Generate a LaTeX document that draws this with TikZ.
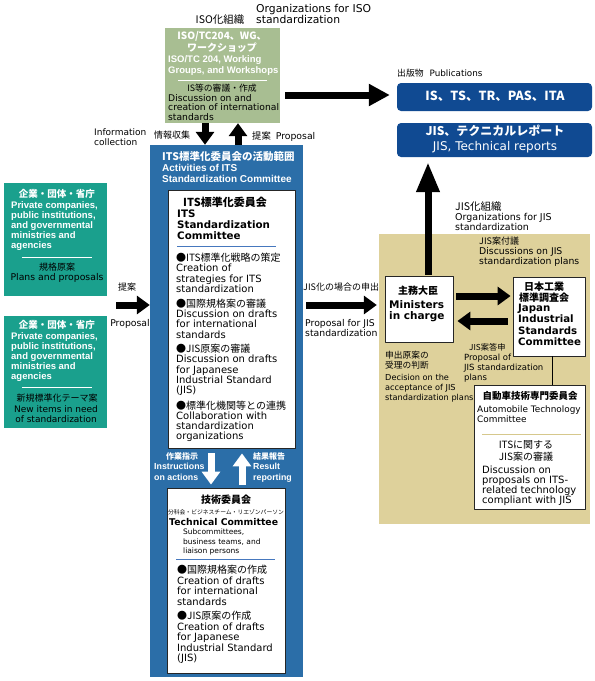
\documentclass[tikz,border=0pt]{standalone}
\usepackage{fontspec}
\setmainfont{DejaVu Sans}
\newfontfamily\jpfont{Noto Sans CJK JP}
\newfontfamily\lbfont{Liberation Sans}
\usetikzlibrary{fit,arrows.meta}
\definecolor{isogreen}{RGB}{168,190,146}
\definecolor{actblue}{RGB}{43,110,168}
\definecolor{orgteal}{RGB}{26,160,141}
\definecolor{pubblue}{RGB}{16,74,146}
\definecolor{jistan}{RGB}{222,209,155}
\definecolor{ruleblue}{RGB}{70,120,190}
\definecolor{ruletan}{RGB}{214,200,140}
\newcommand\jp[1]{{\jpfont#1}}
\newcommand\fsz[2]{\fontsize{#1}{#2}\selectfont}
\setlength\lineskiplimit{-20pt}

\begin{document}
\begin{tikzpicture}[x=1pt,y=-1pt,line join=round,
  txt/.style={inner sep=0pt,anchor=north west,align=left,font=\fsz{9.3}{10.2}},
  panel/.style={inner sep=0pt,fill=#1},
  wbox/.style={inner sep=0pt,fill=white,draw=black!85,line width=0.8pt},
  arr/.style={line width=7pt,-{Triangle[length=13pt,width=18pt]}},
  wline/.style={white,line width=0.7pt}]
  \useasboundingbox (0,0) rectangle (595,681);

  \node[panel=isogreen,fit={(165,28) (280,123)}] (iso) {};
  \node[panel=actblue,fit={(150,145) (303,677)}] (act) {};
  \node[wbox,fit={(168,190) (295,448)}] (its) {};
  \node[wbox,fit={(167,488) (285,673)}] (tc) {};
  \node[panel=orgteal,fit={(4,183) (107,296)}] (org1) {};
  \node[panel=orgteal,fit={(4,316) (107,428)}] (org2) {};
  \node[panel=pubblue,rounded corners=4pt,fit={(397,83) (592,111)}] (pub1) {};
  \node[panel=pubblue,rounded corners=4pt,fit={(397,123) (592,157)}] (pub2) {};
  \node[panel=jistan,fit={(379,234) (590,524)}] (jis) {};
  \node[wbox,fit={(385,276) (453,342)}] (min) {};
  \node[wbox,fit={(513,277) (585,356)}] (jisc) {};
  \node[wbox,fit={(474,385) (585,509)}] (atc) {};

  \node[txt,anchor=center,font=\fsz{10.5}{11}] (isot) at (220,20) {\jp{ISO化組織}};
  \node[txt,font=\fsz{10.8}{11.5}] (isoe) at (256,4) {Organizations for ISO\\standardization};
  \node[txt,anchor=north,align=center,text=white,font=\fsz{10}{12}\jpfont\bfseries] (isoh) at (222,31)
    {ISO/TC204、WG、\\ワークショップ};
  \node[txt,text=white,font=\lbfont\bfseries\fsz{9.5}{11}] (isoe2) at (168,55) {ISO/TC 204, Working\\Groups, and Workshops};
  \draw[wline] (178,80) -- (267,80);
  \node[txt,anchor=center,font=\fsz{8.8}{10}] (isod) at (222,88) {\jp{IS等の審議・作成}};
  \node[txt,font=\fsz{9.2}{9.8}] (isodd) at (168,94) {Discussion on and\\creation of international\\standards};

  \node[txt,font=\fsz{9}{10}] (info) at (94,128) {Information\\collection};
  \node[txt,anchor=west,font=\fsz{9}{10}] (infoj) at (154,135) {\jp{情報収集}};
  \node[txt,anchor=west] (isop) at (252,137) {\jp{提案}\hspace{5pt}Proposal};

  \node[txt,text=white,font=\lbfont\bfseries\fsz{10}{11.3}] (acth) at (162,151)
    {{\jpfont\fsz{10.5}{11.3}ITS標準化委員会の活動範囲}\\Activities of ITS\\Standardization Committee};

  \node[txt,font=\fsz{10.3}{11}\bfseries] (itsh) at (177,197)
    {\hspace*{6pt}{\jpfont\fsz{11}{11}ITS標準化委員会}\\ITS\\Standardization\\Committee};
  \draw[ruleblue,line width=0.8pt] (177,246) -- (276,246);
  \node[txt,font=\fsz{10}{10.2}] (itsb) at (176,253)
    {\jp{●ITS標準化戦略の策定}\\Creation of\\strategies for ITS\\standardization\\[5pt]
     \jp{●国際規格案の審議}\\Discussion on drafts\\for international\\standards\\[4.5pt]
     \jp{●JIS原案の審議}\\Discussion on drafts\\for Japanese\\Industrial Standard\\(JIS)\\[5.5pt]
     \jp{●標準化機関等との連携}\\Collaboration with\\standardization\\organizations};

  \node[txt,anchor=center,font=\fsz{10}{11}\jpfont\bfseries] (tch) at (226,500) {技術委員会};
  \node[txt,anchor=center,font=\fsz{5.8}{6}\jpfont] (tcs) at (226,512) {分科会・ビジネスチーム・リエゾンパーソン};
  \node[txt,anchor=west,font=\fsz{9.3}{11}\bfseries] (tce) at (169,522) {Technical Committee};
  \node[txt,font=\fsz{7.5}{9.5}] (tcm) at (183,529) {Subcommittees,\\business teams, and\\liaison persons};
  \draw[ruleblue,line width=0.8pt] (176,559) -- (275,559);
  \node[txt,font=\fsz{10}{10.5}] (tcb) at (177,565)
    {\jp{●国際規格案の作成}\\Creation of drafts\\for international\\standards\\[4pt]
     \jp{●JIS原案の作成}\\Creation of drafts\\for Japanese\\Industrial Standard\\(JIS)};

  \node[txt,text=white,font=\lbfont\bfseries\fsz{8.8}{10.5}] (inst) at (154,452)
    {\hspace*{12pt}{\jpfont\fsz{8}{10.5}作業指示}\\Instructions\\on actions};
  \node[txt,text=white,font=\lbfont\bfseries\fsz{8.8}{10.5}] (resu) at (253,452)
    {{\jpfont\fsz{8}{10.5}結果報告}\\Result\\reporting};

  \node[txt,anchor=center,text=white,font=\fsz{9.5}{10}\jpfont\bfseries] (o1h) at (57,194) {企業・団体・省庁};
  \node[txt,text=white,font=\lbfont\bfseries\fsz{9.5}{10.2}] (o1e) at (11,201)
    {Private companies,\\public institutions,\\and governmental\\ministries and\\agencies};
  \draw[wline] (22,257) -- (92,257);
  \node[txt,anchor=center,font=\fsz{9}{10}] (o1j) at (57,267) {\jp{規格原案}};
  \node[txt,anchor=center] (o1p) at (57,278) {Plans and proposals};
  \node[txt,anchor=center,text=white,font=\fsz{9.5}{10}\jpfont\bfseries] (o2h) at (57,325) {企業・団体・省庁};
  \node[txt,text=white,font=\lbfont\bfseries\fsz{9.5}{10.2}] (o2e) at (11,332)
    {Private companies,\\public institutions,\\and governmental\\ministries and\\agencies};
  \draw[wline] (22,387) -- (92,387);
  \node[txt,anchor=center,font=\fsz{9}{10}] (o2j) at (57,398) {\jp{新規標準化テーマ案}};
  \node[txt,anchor=north,align=center,font=\fsz{9}{10.2}] (o2n) at (56,405) {New items in need\\of standardization};
  \node[txt,anchor=center,font=\fsz{9}{10}] (orgpj) at (127,287) {\jp{提案}};
  \node[txt,anchor=center] (orgpe) at (130,324) {Proposal};
  \coordinate (orgp) at (116,305);

  \node[txt,anchor=west,font=\fsz{8.8}{9}] (pubt) at (397,73) {\jp{出版物}\hspace{6pt}Publications};
  \node[anchor=center,text=white,font=\fsz{12.5}{13}\jpfont\bfseries] (pub1t) at (495,96) {IS、TS、TR、PAS、ITA};
  \node[anchor=center,text=white,font=\fsz{12}{13}\jpfont\bfseries] (pub2j) at (495,131) {JIS、テクニカルレポート};
  \node[anchor=center,text=white,font=\fsz{12}{13}] (pub2e) at (495,147) {JIS, Technical reports};

  \node[txt,font=\fsz{9.5}{10.2}] (jorg) at (455,201) {{\jpfont\fsz{10.5}{10.2}JIS化組織}\\Organizations for JIS\\standardization};
  \node[txt,font=\fsz{9.3}{9.8}] (jdisc) at (479,237) {{\jpfont\fsz{9}{9.8}JIS案付議}\\Discussions on JIS\\standardization plans};
  \node[txt,anchor=center,font=\fsz{10}{11}\jpfont\bfseries] (minj) at (418,291) {主務大臣};
  \node[txt,font=\fsz{10.5}{11.3}\bfseries] (mine) at (389,300) {Ministers\\in charge};
  \node[txt,anchor=north,align=center,font=\fsz{10}{10.7}\jpfont\bfseries] (jiscj) at (544,282) {日本工業\\標準調査会};
  \node[txt,font=\fsz{10.2}{11.3}\bfseries] (jisce) at (518,304) {Japan\\Industrial\\Standards\\Committee};
  \node[txt,anchor=west,font=\fsz{9}{10}] (jpj) at (303,287) {\jp{JIS化の場合の申出}};
  \node[txt] (jpe) at (305,319) {Proposal for JIS\\standardization};
  \coordinate (jpro) at (306,305);
  \node[txt,font=\fsz{8.2}{10}] (dec) at (385,351)
    {{\jpfont\fsz{8.7}{10.2}申出原案の}\\{\jpfont\fsz{8.7}{10.2}受理の判断}\\[1.5pt]Decision on the\\acceptance of JIS\\standardization plans};
  \node[txt,font=\fsz{8.5}{10}] (ans) at (464,343)
    {\hspace*{5pt}{\jpfont\fsz{8.2}{10}JIS案答申}\\Proposal of\\JIS standardization\\plans};
  \node[txt,anchor=center,font=\fsz{9.5}{10}\jpfont\bfseries] (atcj) at (530,396) {自動車技術専門委員会};
  \node[txt,font=\fsz{8.9}{10}] (atce) at (477,406) {Automobile Technology\\Committee};
  \draw[ruletan,line width=0.8pt] (482,434) -- (581,434);
  \node[txt,anchor=north,align=center,font=\fsz{10}{12}] (atcd) at (526,440) {\jp{ITSに関する}\\\jp{JIS案の審議}};
  \node[txt,font=\fsz{10}{10}] (atcb) at (482,466) {Discussion on\\proposals on ITS-\\related technology\\compliant with JIS};

  \draw[arr,-{Triangle[length=21pt,width=21pt]},shorten <=5pt,shorten >=7pt] (iso.east |- 0,95) -- (pub1.west |- 0,95);
  \draw[arr] (iso.south -| 205,0) -- (act.north -| 205,0);
  \draw[arr] (act.north -| 238,0) -- (iso.south -| 238,0);
  \draw[arr] (orgp) -- (act.west |- orgp);
  \draw[arr,white,shorten <=5pt,shorten >=3pt] (its.south -| 211,0) -- (tc.north -| 211,0);
  \draw[arr,white,shorten <=3pt,shorten >=5pt] (tc.north -| 242,0) -- (its.south -| 242,0);
  \draw[arr,shorten >=2pt] (jpro) -- (jis.west |- jpro);
  \draw[arr,shorten <=3pt,shorten >=2pt] (min.east |- 0,296) -- (jisc.west |- 0,296);
  \draw[arr,shorten <=5pt,shorten >=4pt] (jisc.west |- 0,321) -- (min.east |- 0,321);
  \draw[arr,-{Triangle[length=30pt,width=22pt]},shorten <=1pt,shorten >=5pt] (min.north -| 428,0) -- (pub2.south -| 428,0);
  \draw[line width=0.8pt] (jisc.south -| 552,0) -- (atc.north -| 552,0);
\end{tikzpicture}
\end{document}
